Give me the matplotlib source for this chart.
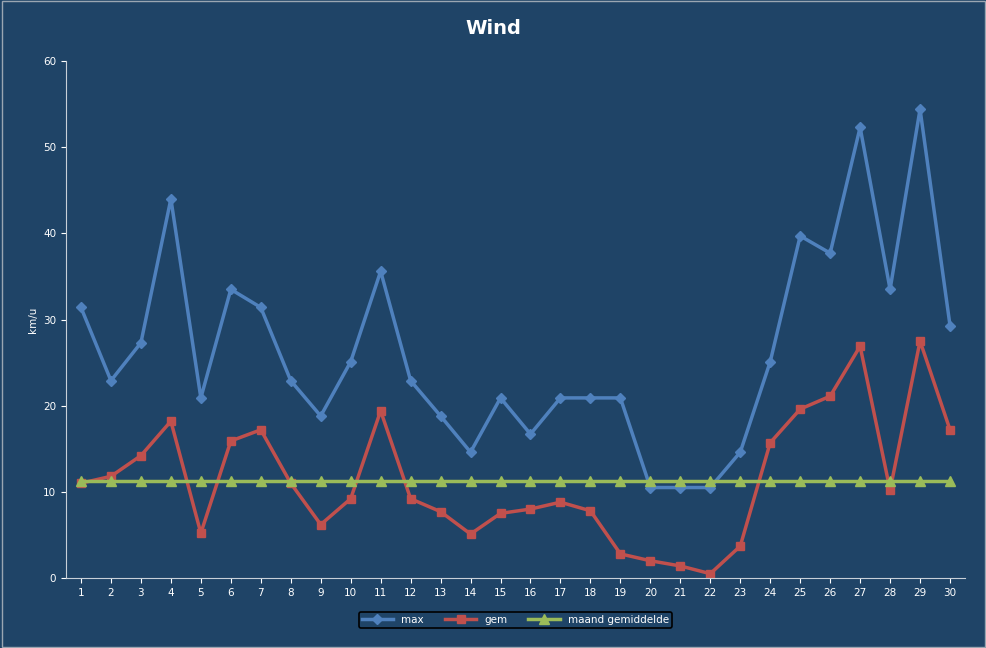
import matplotlib
matplotlib.use("Agg")
import matplotlib.pyplot as plt

days = list(range(1, 31))
max_vals = [31.4, 22.9, 27.3, 44.0, 20.9, 33.5, 31.4, 22.9, 18.8, 25.1,
            35.6, 22.9, 18.8, 14.6, 20.9, 16.7, 20.9, 20.9, 20.9, 10.5,
            10.5, 10.5, 14.6, 25.1, 39.7, 37.7, 52.3, 33.5, 54.4, 29.3]
gem_vals = [11.0, 11.8, 14.2, 18.2, 5.2, 15.9, 17.2, 11.0, 6.2, 9.2,
            19.4, 9.2, 7.7, 5.1, 7.5, 8.0, 8.8, 7.8, 2.8, 2.0,
            1.4, 0.5, 3.7, 15.7, 19.6, 21.1, 26.9, 10.2, 27.5, 17.2]
avg_vals = [11.3] * 30

bg = "#1F4467"
fig = plt.figure(figsize=(9.87, 6.48), dpi=100, facecolor=bg)
fig.patches.append(plt.Rectangle((0.002, 0.002), 0.996, 0.996, transform=fig.transFigure,
                                 fill=False, edgecolor="#9aa6b2", lw=1))
ax = fig.add_axes([66/987, 1-578/648, (965-66)/987, (578-61)/648])
ax.set_facecolor(bg)
ax.plot(days, max_vals, color="#4F81BD", marker="D", ms=5, lw=2.5, label="max")
ax.plot(days, gem_vals, color="#C0504D", marker="s", ms=6, lw=2.5, label="gem")
ax.plot(days, avg_vals, color="#9BBB59", marker="^", ms=7, lw=2.5, label="maand gemiddelde")
ax.set_xlim(0.5, 30.5)
ax.set_ylim(0, 60)
ax.set_xticks(days)
ax.set_yticks(range(0, 61, 10))
ax.tick_params(colors="white", labelsize=7.5)
for s in ["top", "right"]:
    ax.spines[s].set_visible(False)
for s in ["left", "bottom"]:
    ax.spines[s].set_color("#c8d0d8")
ax.set_ylabel("km/u", color="white", fontsize=7.5)
fig.suptitle("Wind", color="white", fontsize=14, fontweight="bold", y=0.97)
leg = ax.legend(loc="upper center", bbox_to_anchor=(0.5, -0.055), ncol=3, frameon=True,
                fontsize=7.5, facecolor=bg, edgecolor="black", framealpha=1,
                handlelength=3, borderpad=0.3)
leg.get_frame().set_linewidth(1.2)
for t in leg.get_texts():
    t.set_color("white")
fig.savefig("out.png", dpi=100, facecolor=bg)
